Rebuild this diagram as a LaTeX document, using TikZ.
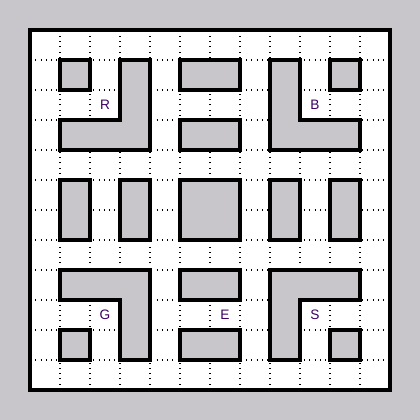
\documentclass[tikz,border=0pt]{standalone}
\usepackage{fontspec}
\setsansfont{Liberation Sans}
\usepackage{xcolor}
\usepackage{tikz}
\definecolor{tilegray}{RGB}{200,198,202}
\definecolor{labelink}{RGB}{60,0,100}

\begin{document}
\begin{tikzpicture}[
    x=0.5cm, y=0.5cm,
    wall/.style={draw, line width=1.8pt, fill=tilegray},
    every node/.style={font=\sffamily\fontsize{6.5}{7}\selectfont, text=labelink}
  ]

    % Background and board
    \fill[tilegray] (0,0) rectangle (14,14);
    \fill[white] (1,1) rectangle (13,13);
    \draw[dotted, line width=0.5pt, step=0.5cm] (1,1) grid (13,13);

    % Top row
    \draw[wall] (2,11) rectangle (3,12);
    \draw[wall] (2,10) -- (4,10) -- (4,12) -- (5,12) -- (5,9) -- (2,9) -- cycle;
    \draw[wall] (6,11) rectangle (8,12);
    \draw[wall] (6,9) rectangle (8,10);
    \draw[wall] (9,12) -- (10,12) -- (10,10) -- (12,10) -- (12,9) -- (9,9) -- cycle;
    \draw[wall] (11,11) rectangle (12,12);

    % Middle row
    \draw[wall] (2,6) rectangle (3,8);
    \draw[wall] (4,6) rectangle (5,8);
    \draw[wall] (6,6) rectangle (8,8);
    \draw[wall] (9,6) rectangle (10,8);
    \draw[wall] (11,6) rectangle (12,8);

    % Bottom row
    \draw[wall] (2,5) -- (5,5) -- (5,2) -- (4,2) -- (4,4) -- (2,4) -- cycle;
    \draw[wall] (2,2) rectangle (3,3);
    \draw[wall] (6,4) rectangle (8,5);
    \draw[wall] (6,2) rectangle (8,3);
    \draw[wall] (9,5) -- (12,5) -- (12,4) -- (10,4) -- (10,2) -- (9,2) -- cycle;
    \draw[wall] (11,2) rectangle (12,3);

    % Board border
    \draw[line width=1.8pt] (1,1) rectangle (13,13);

    % Labels
    \node (red) at (3.5,10.5) {R};
    \node (blue) at (10.5,10.5) {B};
    \node (green) at (3.5,3.5) {G};
    \node (exit) at (7.5,3.5) {E};
    \node (start) at (10.5,3.5) {S};

  \end{tikzpicture}
\end{document}
